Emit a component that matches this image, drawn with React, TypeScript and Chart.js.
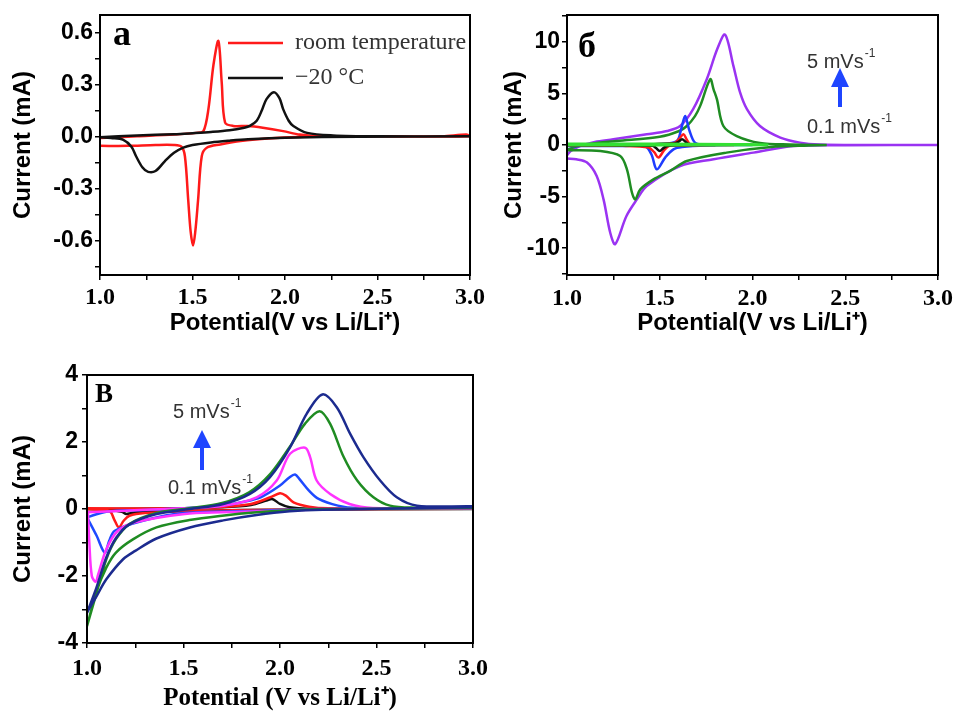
import React, { useEffect, useRef } from "react";
import { Chart, registerables } from "chart.js";

Chart.register(...registerables);

const SERIF = "'Liberation Serif', 'Times New Roman', Times, serif";
const SANS = "'Liberation Sans', Arial, Helvetica, sans-serif";

// ---------------- shared x axis ----------------
const X_TICKS = [1, 1.25, 1.5, 1.75, 2, 2.25, 2.5, 2.75, 3];
const X_TICK_LABELS = [1, 1.5, 2, 2.5, 3];
const RATE_LABELS = ["5", "0.1"];

// ---------------- panel a ----------------
const A_Y_TICKS = [-0.75, -0.6, -0.45, -0.3, -0.15, 0, 0.15, 0.3, 0.45, 0.6];
const A_Y_TICK_LABELS = [-0.6, -0.3, 0, 0.3, 0.6];
const A_LEGEND = ["room temperature", "\u221220 \u00b0C"];

const A_RT_UP_V = [1.0, 1.2, 1.4, 1.52, 1.559, 1.586, 1.613, 1.64, 1.658, 1.676, 1.72, 1.8, 1.88, 1.99, 2.08, 2.2, 2.5, 2.85, 2.98];
const A_RT_UP_I = [-0.01, 0.0, 0.01, 0.02, 0.03, 0.157, 0.41, 0.55, 0.31, 0.08, 0.06, 0.06, 0.05, 0.03, 0.01, 0.0, 0.0, 0.0, 0.01];
const A_RT_DOWN_V = [3.0, 2.5, 2.1, 1.95, 1.76, 1.65, 1.577, 1.55, 1.53, 1.515, 1.503, 1.49, 1.477, 1.459, 1.44, 1.4, 1.3, 1.15, 1.0];
const A_RT_DOWN_I = [0.0, 0.0, -0.002, -0.01, -0.027, -0.047, -0.066, -0.115, -0.37, -0.55, -0.63, -0.55, -0.37, -0.115, -0.06, -0.05, -0.05, -0.055, -0.055];

const A_LT_UP_V = [1.0, 1.2, 1.4, 1.5, 1.6, 1.7, 1.78, 1.81, 1.847, 1.875, 1.9, 1.94, 1.97, 1.99, 2.02, 2.045, 2.12, 2.26, 2.5, 3.0];
const A_LT_UP_I = [-0.005, 0.005, 0.012, 0.018, 0.025, 0.035, 0.05, 0.06, 0.09, 0.15, 0.215, 0.255, 0.22, 0.157, 0.09, 0.06, 0.02, 0.005, 0.0, 0.0];
const A_LT_DOWN_V = [3.0, 2.4, 2.0, 1.8, 1.7, 1.6, 1.5, 1.45, 1.4, 1.35, 1.3, 1.26, 1.23, 1.195, 1.17, 1.126, 1.06, 1.0];
const A_LT_DOWN_I = [0.0, -0.002, -0.008, -0.017, -0.025, -0.035, -0.05, -0.065, -0.095, -0.144, -0.2, -0.205, -0.18, -0.115, -0.06, -0.02, -0.01, -0.005];

// ---------------- panel b ----------------
const B_Y_TICKS = [-12.5, -10, -7.5, -5, -2.5, 0, 2.5, 5, 7.5, 10, 12.5];
const B_Y_TICK_LABELS = [-10, -5, 0, 5, 10];

const B_BLACK_UP_V = [1.0, 1.4, 1.58, 1.6, 1.62, 1.64, 1.66, 1.8];
const B_BLACK_UP_I = [0.0, 0.05, 0.15, 0.3, 0.55, 0.3, 0.05, 0.0];
const B_BLACK_DOWN_V = [1.8, 1.6, 1.54, 1.52, 1.5, 1.48, 1.46, 1.0];
const B_BLACK_DOWN_I = [0.0, -0.03, -0.1, -0.3, -0.58, -0.3, -0.08, -0.02];

const B_RED_UP_V = [1.0, 1.3, 1.5, 1.583, 1.605, 1.628, 1.645, 1.664, 1.72, 1.9];
const B_RED_UP_I = [-0.03, 0.03, 0.1, 0.23, 0.6, 1.04, 0.55, 0.07, 0.01, 0.0];
const B_RED_DOWN_V = [1.9, 1.7, 1.58, 1.547, 1.52, 1.493, 1.47, 1.44, 1.3, 1.0];
const B_RED_DOWN_I = [0.0, -0.02, -0.06, -0.1, -0.6, -1.22, -0.7, -0.25, -0.08, -0.03];

const B_BLUE_UP_V = [1.0, 1.3, 1.5, 1.592, 1.615, 1.637, 1.66, 1.69, 1.75, 2.0];
const B_BLUE_UP_I = [-0.1, 0.02, 0.1, 0.39, 1.5, 2.82, 1.4, 0.23, 0.03, 0.0];
const B_BLUE_DOWN_V = [2.0, 1.75, 1.62, 1.574, 1.53, 1.484, 1.455, 1.42, 1.3, 1.0];
const B_BLUE_DOWN_I = [0.0, -0.05, -0.2, -0.42, -1.2, -2.36, -0.9, -0.1, -0.1, -0.1];

const B_GREEN_UP_V = [1.0, 1.06, 1.143, 1.27, 1.5, 1.605, 1.646, 1.69, 1.718, 1.772, 1.79, 1.808, 1.843, 1.915, 2.04, 2.2, 2.4];
const B_GREEN_UP_I = [-0.45, -0.1, 0.15, 0.39, 0.8, 1.36, 1.84, 2.8, 3.79, 6.38, 5.4, 4.44, 1.84, 0.87, 0.2, 0.05, 0.0];
const B_GREEN_DOWN_V = [2.4, 2.3, 2.1, 1.86, 1.646, 1.556, 1.466, 1.395, 1.368, 1.35, 1.323, 1.287, 1.18, 1.0];
const B_GREEN_DOWN_I = [0.0, -0.05, -0.2, -0.74, -1.55, -2.5, -3.33, -4.3, -5.27, -4.6, -2.36, -1.07, -0.58, -0.5];

const B_PURPLE_UP_V = [1.0, 1.02, 1.07, 1.15, 1.25, 1.43, 1.54, 1.61, 1.68, 1.754, 1.81, 1.852, 1.897, 1.933, 1.97, 2.04, 2.15, 2.256, 2.36, 2.6, 3.0];
const B_PURPLE_UP_I = [-1.0, -0.58, -0.1, 0.3, 0.55, 1.04, 1.36, 1.84, 3.47, 6.4, 9.3, 10.7, 7.67, 5.09, 3.47, 1.84, 0.72, 0.23, 0.05, 0.0, 0.0];
const B_PURPLE_DOWN_V = [3.0, 2.5, 2.22, 2.005, 1.79, 1.61, 1.43, 1.377, 1.32, 1.26, 1.233, 1.197, 1.16, 1.108, 1.05, 1.0];
const B_PURPLE_DOWN_I = [0.0, -0.02, -0.1, -0.74, -1.39, -2.04, -3.98, -5.27, -6.9, -9.6, -8.5, -5.27, -3.0, -1.7, -1.39, -1.3];

const B_LIME_UP_V = [1.0, 1.5, 1.9, 2.08];
const B_LIME_UP_I = [0.12, 0.12, 0.08, 0.03];
const B_LIME_DOWN_V = [2.08, 1.5, 1.0];
const B_LIME_DOWN_I = [0.0, -0.02, -0.03];

// ---------------- panel B (bottom) ----------------
const C_Y_TICKS = [-4, -3, -2, -1, 0, 1, 2, 3, 4];
const C_Y_TICK_LABELS = [-4, -2, 0, 2, 4];

const C_BLACK_UP_V = [1.0, 1.5, 1.7, 1.85, 1.93, 1.96, 2.0, 2.05, 2.15, 3.0];
const C_BLACK_UP_I = [0.0, 0.02, 0.05, 0.12, 0.25, 0.3, 0.15, 0.05, 0.01, 0.0];
const C_BLACK_DOWN_V = [3.0, 2.0, 1.6, 1.35, 1.26, 1.23, 1.204, 1.18, 1.1, 1.0];
const C_BLACK_DOWN_I = [0.0, -0.02, -0.05, -0.08, -0.1, -0.12, -0.15, -0.08, -0.02, 0.0];

const C_RED_UP_V = [1.0, 1.5, 1.7, 1.85, 1.95, 2.0, 2.03, 2.07, 2.15, 2.25, 3.0];
const C_RED_UP_I = [0.02, 0.02, 0.06, 0.15, 0.35, 0.47, 0.4, 0.2, 0.07, 0.02, 0.01];
const C_RED_DOWN_V = [3.0, 2.0, 1.6, 1.3, 1.22, 1.19, 1.165, 1.14, 1.12, 1.05, 1.0];
const C_RED_DOWN_I = [0.01, -0.02, -0.05, -0.12, -0.2, -0.35, -0.55, -0.3, -0.08, -0.02, 0.0];

const C_BLUE_UP_V = [1.0, 1.1, 1.3, 1.5, 1.7, 1.8, 1.9, 2.0, 2.05, 2.078, 2.1, 2.15, 2.2, 2.3, 2.4, 3.0];
const C_BLUE_UP_I = [-0.25, -0.08, -0.03, 0.02, 0.1, 0.2, 0.35, 0.7, 0.95, 1.03, 0.9, 0.55, 0.3, 0.1, 0.03, 0.02];
const C_BLUE_DOWN_V = [3.0, 2.2, 1.9, 1.5, 1.29, 1.144, 1.115, 1.092, 1.05, 1.0];
const C_BLUE_DOWN_I = [0.02, 0.0, -0.05, -0.12, -0.35, -0.65, -0.95, -1.3, -0.8, -0.25];

const C_MAGENTA_UP_V = [1.0, 1.2, 1.5, 1.706, 1.879, 1.983, 2.052, 2.13, 2.156, 2.19, 2.26, 2.36, 2.48, 3.0];
const C_MAGENTA_UP_I = [-0.1, -0.05, 0.02, 0.1, 0.35, 0.85, 1.65, 1.83, 1.55, 0.85, 0.45, 0.15, 0.03, 0.02];
const C_MAGENTA_DOWN_V = [3.0, 2.3, 2.0, 1.7, 1.507, 1.248, 1.16, 1.1, 1.058, 1.045, 1.025, 1.012, 1.005];
const C_MAGENTA_DOWN_I = [0.02, 0.0, -0.05, -0.1, -0.15, -0.4, -0.65, -1.2, -1.95, -2.17, -2.0, -1.0, -0.1];

const C_GREEN_UP_V = [1.0, 1.05, 1.1, 1.15, 1.22, 1.36, 1.53, 1.7, 1.84, 1.95, 2.05, 2.13, 2.205, 2.26, 2.33, 2.4, 2.484, 2.57, 2.7, 3.0];
const C_GREEN_UP_I = [-3.5, -2.5, -1.5, -0.9, -0.45, -0.12, 0.02, 0.18, 0.5, 1.05, 1.85, 2.55, 2.92, 2.54, 1.55, 0.85, 0.35, 0.1, 0.04, 0.03];
const C_GREEN_DOWN_V = [3.0, 2.2, 2.05, 1.88, 1.7, 1.53, 1.36, 1.24, 1.15, 1.1, 1.05, 1.0];
const C_GREEN_DOWN_I = [0.03, -0.01, -0.04, -0.1, -0.2, -0.33, -0.55, -0.9, -1.3, -1.75, -2.45, -3.5];

const C_NAVY_UP_V = [1.0, 1.049, 1.1, 1.152, 1.222, 1.36, 1.533, 1.706, 1.844, 1.948, 2.052, 2.138, 2.22, 2.294, 2.363, 2.432, 2.519, 2.605, 2.71, 3.0];
const C_NAVY_UP_I = [-3.1, -2.35, -1.45, -0.85, -0.45, -0.15, 0.0, 0.15, 0.45, 0.95, 1.84, 2.84, 3.42, 3.04, 2.25, 1.55, 0.85, 0.35, 0.1, 0.08];
const C_NAVY_DOWN_V = [3.0, 2.22, 2.05, 1.879, 1.706, 1.533, 1.36, 1.25, 1.187, 1.1, 1.05, 1.014, 1.0];
const C_NAVY_DOWN_I = [0.05, -0.02, -0.07, -0.18, -0.34, -0.55, -0.88, -1.25, -1.5, -2.1, -2.6, -2.95, -3.1];

// ---------------- helpers ----------------
type Pt = { x: number; y: number };
function loop(upV: number[], upI: number[], downV: number[], downI: number[]): Pt[] {
  const pts: Pt[] = upV.map((v, k) => ({ x: v, y: upI[k] }));
  return pts.concat(downV.map((v, k) => ({ x: v, y: downI[k] })));
}

function drawRate(ctx: CanvasRenderingContext2D, x: number, y: number, value: string) {
  ctx.fillStyle = "#333";
  ctx.textAlign = "left";
  ctx.textBaseline = "middle";
  ctx.font = `20px ${SANS}`;
  const base = `${value} mVs`;
  ctx.fillText(base, x, y);
  const w = ctx.measureText(base).width;
  ctx.font = `12px ${SANS}`;
  ctx.fillText("-1", x + w + 1, y - 8);
}

function drawArrow(ctx: CanvasRenderingContext2D, x: number, yTip: number, yHead: number, yBottom: number) {
  ctx.fillStyle = "#1f45ff";
  ctx.fillRect(x - 2, yHead - 1, 4, yBottom - yHead + 1);
  ctx.beginPath();
  ctx.moveTo(x - 9, yHead);
  ctx.lineTo(x + 9, yHead);
  ctx.lineTo(x, yTip);
  ctx.closePath();
  ctx.fill();
}

type Area = { left: number; top: number; right: number; bottom: number };

interface Spec {
  pad: { left: number; top: number; right: number; bottom: number };
  yWidth: number;
  xHeight: number;
  yMin: number;
  yMax: number;
  yTicks: number[];
  yLabels: number[];
  yDigits: number;
  yTickPad: number;
  yTitlePad: number;
  xTickPad: number;
  xTitle: string;
  xTitleFont: any;
  xTitlePad: number;
  // listed from top-most to bottom-most (Chart.js paints dataset 0 last)
  series: { points: Pt[]; color: string }[];
  annotate: (ctx: CanvasRenderingContext2D, a: Area) => void;
}

function buildConfig(p: Spec): any {
  const framePlugin = {
    id: "frameAndNotes",
    afterDatasetsDraw(chart: any) {
      const { ctx, chartArea: a } = chart;
      ctx.save();
      ctx.strokeStyle = "#000";
      ctx.lineWidth = 2;
      ctx.strokeRect(a.left, a.top, a.right - a.left, a.bottom - a.top);
      ctx.restore();
    },
    afterDraw(chart: any) {
      const { ctx, chartArea } = chart;
      ctx.save();
      p.annotate(ctx, chartArea);
      ctx.restore();
    },
  };
  return {
    type: "scatter",
    data: {
      datasets: p.series.map((s) => ({
        data: s.points,
        borderColor: s.color,
        backgroundColor: s.color,
        borderWidth: 2.5,
        pointRadius: 0,
        showLine: true,
        tension: 0.32,
        fill: false,
      })),
    },
    options: {
      responsive: false,
      animation: false,
      events: [],
      layout: { padding: p.pad },
      plugins: { legend: { display: false }, tooltip: { enabled: false } },
      scales: {
        x: {
          type: "linear",
          position: "bottom",
          min: 1,
          max: 3,
          afterBuildTicks: (s: any) => {
            s.ticks = X_TICKS.map((v) => ({ value: v }));
          },
          afterFit: (s: any) => {
            s.height = p.xHeight;
            s.paddingLeft = 0;
            s.paddingRight = 0;
          },
          ticks: {
            autoSkip: false,
            maxRotation: 0,
            minRotation: 0,
            padding: p.xTickPad,
            color: "#000",
            font: { family: SERIF, size: 24, weight: "bold" },
            callback: (v: number) => (X_TICK_LABELS.includes(v) ? v.toFixed(1) : ""),
          },
          grid: { display: true, drawOnChartArea: false, drawTicks: true, tickLength: 5, color: "#000", lineWidth: 1.5 },
          border: { display: false },
          title: {
            display: true,
            text: p.xTitle,
            color: "#000",
            font: p.xTitleFont,
            padding: { top: 0, bottom: p.xTitlePad },
          },
        },
        y: {
          type: "linear",
          position: "left",
          min: p.yMin,
          max: p.yMax,
          afterBuildTicks: (s: any) => {
            s.ticks = p.yTicks.map((v) => ({ value: v }));
          },
          afterFit: (s: any) => {
            s.width = p.yWidth;
            s.paddingTop = 0;
            s.paddingBottom = 0;
          },
          ticks: {
            autoSkip: false,
            padding: p.yTickPad,
            color: "#000",
            font: { family: SANS, size: 23, weight: "bold" },
            callback: (v: number) => (p.yLabels.includes(v) ? v.toFixed(p.yDigits) : ""),
          },
          grid: { display: true, drawOnChartArea: false, drawTicks: true, tickLength: 5, color: "#000", lineWidth: 1.5 },
          border: { display: false },
          title: {
            display: true,
            text: "Current (mA)",
            color: "#000",
            font: { family: SANS, size: 24, weight: "bold" },
            padding: { top: p.yTitlePad, bottom: 0 },
          },
        },
      },
    },
    plugins: [framePlugin],
  };
}

// ---------------- panel specs ----------------
const RED = "#ff1a1a";

const specA: Spec = {
  pad: { left: 0, top: 15, right: 483, bottom: 371 },
  yWidth: 100,
  xHeight: 65,
  yMin: -0.8,
  yMax: 0.7,
  yTicks: A_Y_TICKS,
  yLabels: A_Y_TICK_LABELS,
  yDigits: 1,
  yTickPad: 2,
  yTitlePad: 9,
  xTickPad: 3,
  xTitle: "Potential(V vs Li/Li\u207a)",
  xTitleFont: { family: SANS, size: 24, weight: "bold" },
  xTitlePad: 2,
  series: [
    { points: loop(A_LT_UP_V, A_LT_UP_I, A_LT_DOWN_V, A_LT_DOWN_I), color: "#111111" },
    { points: loop(A_RT_UP_V, A_RT_UP_I, A_RT_DOWN_V, A_RT_DOWN_I), color: RED },
  ],
  annotate: (ctx, a) => {
    ctx.fillStyle = "#000";
    ctx.textAlign = "left";
    ctx.textBaseline = "alphabetic";
    ctx.font = `bold 36px ${SERIF}`;
    ctx.fillText("a", a.left + 13, a.top + 30);
    const colors = [RED, "#111111"];
    A_LEGEND.forEach((label, k) => {
      const y = a.top + 28 + k * 35;
      ctx.strokeStyle = colors[k];
      ctx.lineWidth = 2.6;
      ctx.beginPath();
      ctx.moveTo(a.left + 128, y);
      ctx.lineTo(a.left + 183, y);
      ctx.stroke();
      ctx.fillStyle = "#333";
      ctx.textBaseline = "middle";
      ctx.font = `24px ${SERIF}`;
      ctx.fillText(label, a.left + 195, y);
    });
  },
};

const specB: Spec = {
  pad: { left: 480, top: 15, right: 15, bottom: 371 },
  yWidth: 87,
  xHeight: 65,
  yMin: -12.6,
  yMax: 12.6,
  yTicks: B_Y_TICKS,
  yLabels: B_Y_TICK_LABELS,
  yDigits: 0,
  yTickPad: 2,
  yTitlePad: 20,
  xTickPad: 4,
  xTitle: "Potential(V vs Li/Li\u207a)",
  xTitleFont: { family: SANS, size: 24, weight: "bold" },
  xTitlePad: 2,
  series: [
    { points: loop(B_LIME_UP_V, B_LIME_UP_I, B_LIME_DOWN_V, B_LIME_DOWN_I), color: "#33e033" },
    { points: loop(B_BLACK_UP_V, B_BLACK_UP_I, B_BLACK_DOWN_V, B_BLACK_DOWN_I), color: "#111111" },
    { points: loop(B_RED_UP_V, B_RED_UP_I, B_RED_DOWN_V, B_RED_DOWN_I), color: RED },
    { points: loop(B_BLUE_UP_V, B_BLUE_UP_I, B_BLUE_DOWN_V, B_BLUE_DOWN_I), color: "#1f3cff" },
    { points: loop(B_GREEN_UP_V, B_GREEN_UP_I, B_GREEN_DOWN_V, B_GREEN_DOWN_I), color: "#1f8c22" },
    { points: loop(B_PURPLE_UP_V, B_PURPLE_UP_I, B_PURPLE_DOWN_V, B_PURPLE_DOWN_I), color: "#9a33f2" },
  ],
  annotate: (ctx, a) => {
    ctx.fillStyle = "#000";
    ctx.textAlign = "left";
    ctx.textBaseline = "alphabetic";
    ctx.font = `bold 36px ${SERIF}`;
    ctx.fillText("\u0431", a.left + 11, a.top + 42);
    drawRate(ctx, a.left + 240, a.top + 47, RATE_LABELS[0]);
    drawArrow(ctx, a.left + 273, a.top + 53, a.top + 72, a.top + 92);
    drawRate(ctx, a.left + 240, a.top + 112, RATE_LABELS[1]);
  },
};

const specC: Spec = {
  pad: { left: 0, top: 375, right: 480, bottom: 0 },
  yWidth: 87,
  xHeight: 68,
  yMin: -4,
  yMax: 4,
  yTicks: C_Y_TICKS,
  yLabels: C_Y_TICK_LABELS,
  yDigits: 0,
  yTickPad: 4,
  yTitlePad: 9,
  xTickPad: 6,
  xTitle: "Potential (V vs Li/Li\u207a)",
  xTitleFont: { family: SERIF, size: 25, weight: "bold", lineHeight: 1 },
  xTitlePad: 0,
  series: [
    { points: loop(C_NAVY_UP_V, C_NAVY_UP_I, C_NAVY_DOWN_V, C_NAVY_DOWN_I), color: "#1c2b8f" },
    { points: loop(C_GREEN_UP_V, C_GREEN_UP_I, C_GREEN_DOWN_V, C_GREEN_DOWN_I), color: "#1f8c22" },
    { points: loop(C_MAGENTA_UP_V, C_MAGENTA_UP_I, C_MAGENTA_DOWN_V, C_MAGENTA_DOWN_I), color: "#ff33ff" },
    { points: loop(C_BLUE_UP_V, C_BLUE_UP_I, C_BLUE_DOWN_V, C_BLUE_DOWN_I), color: "#1f4aff" },
    { points: loop(C_RED_UP_V, C_RED_UP_I, C_RED_DOWN_V, C_RED_DOWN_I), color: RED },
    { points: loop(C_BLACK_UP_V, C_BLACK_UP_I, C_BLACK_DOWN_V, C_BLACK_DOWN_I), color: "#111111" },
  ],
  annotate: (ctx, a) => {
    ctx.fillStyle = "#000";
    ctx.textAlign = "left";
    ctx.textBaseline = "alphabetic";
    ctx.font = `bold 27px ${SERIF}`;
    ctx.fillText("B", a.left + 8, a.top + 27);
    drawRate(ctx, a.left + 86, a.top + 37, RATE_LABELS[0]);
    drawArrow(ctx, a.left + 115, a.top + 55, a.top + 73, a.top + 95);
    drawRate(ctx, a.left + 81, a.top + 113, RATE_LABELS[1]);
  },
};

function Panel({ spec }: { spec: Spec }) {
  const ref = useRef<HTMLCanvasElement>(null);
  useEffect(() => {
    const chart = new Chart(ref.current as HTMLCanvasElement, buildConfig(spec));
    return () => chart.destroy();
  }, [spec]);
  return (
    <canvas
      ref={ref}
      width={953}
      height={711}
      style={{ position: "absolute", left: 0, top: 0, width: 953, height: 711 }}
    />
  );
}

export default function App() {
  return (
    <div style={{ position: "absolute", left: 0, top: 0, width: 953, height: 711, background: "#fff", overflow: "hidden" }}>
      <Panel spec={specA} />
      <Panel spec={specB} />
      <Panel spec={specC} />
    </div>
  );
}
